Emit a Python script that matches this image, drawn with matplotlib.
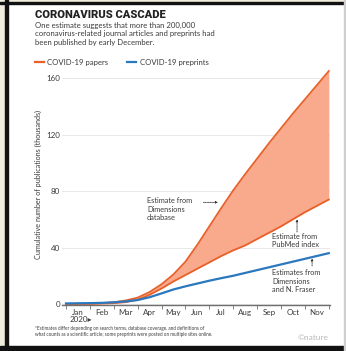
import matplotlib
matplotlib.use("Agg")
import matplotlib.pyplot as plt
from matplotlib.patches import Rectangle
from matplotlib.lines import Line2D

W, H = 346, 351

# half-month steps, 0 = 1 Jan 2020, 11 = 1 Dec 2020
t = [0, 0.5, 1, 1.5, 2, 2.5, 3, 3.5, 4, 4.5, 5, 5.5, 6, 6.5, 7, 7.5, 8, 8.5, 9, 9.5, 10, 10.5, 11]
papers_dimensions = [0, 0.1, 0.3, 0.6, 1.2, 2.5, 4.5, 8.5, 14, 21, 30, 42, 55, 68, 80.5, 92, 103,
                     114, 124.5, 135, 145, 155, 165]
papers_pubmed = [0, 0.05, 0.1, 0.3, 0.6, 1.3, 3, 6.5, 11, 16, 20.5, 25, 29.5, 34, 38, 41.5, 46,
                 50.5, 55, 60, 65, 69.5, 74]
preprints = [0.4, 0.5, 0.6, 0.8, 1.2, 1.8, 2.8, 4.8, 7.5, 10.3, 12.5, 14.5, 16.5, 18.3, 20, 22,
             24, 26, 28, 30, 32, 34, 36]
months = ["Jan", "Feb", "Mar", "Apr", "May", "Jun", "Jul", "Aug", "Sep", "Oct", "Nov"]
yticks = [0, 40, 80, 120, 160]

ORANGE = "#e8612a"
FILL = "#f9a98c"
BLUE = "#2a78bd"
TXT = "#3a3a3a"

plt.rcParams["font.family"] = ["Lato", "DejaVu Sans"]


def fx(px):
    return px / W


def fy(py):
    return 1 - py / H


fig = plt.figure(figsize=(W / 100, H / 100), dpi=100)
fig.patch.set_facecolor("white")

# frame of the clipping
fig.add_artist(Rectangle((0, 0), fx(5), 1, transform=fig.transFigure, color="#f0ecdc", zorder=0))
fig.add_artist(Rectangle((0, fy(1.7)), 1, 1.7 / H, transform=fig.transFigure, color="#f0ecdc", zorder=0))
fig.add_artist(Rectangle((fx(5), 0), 3 / W, 1, transform=fig.transFigure, color="#111111"))
fig.add_artist(Rectangle((0, fy(4)), 1, 2.3 / H, transform=fig.transFigure, color="#111111"))
fig.add_artist(Rectangle((0, 0), 1, 5.5 / H, transform=fig.transFigure, color="#111111"))
fig.add_artist(Rectangle((fx(344), 0), 1.5 / W, 1, transform=fig.transFigure, color="#cfcfcf"))

ax = fig.add_axes([fx(62.4), fy(305.4), fx(330) - fx(62.4), fy(64) - fy(305.4)])
ax.set_xlim(-0.15, 11.05)
ax.set_ylim(-1, 170)

for v in yticks:
    ax.axhline(v, color="#e4e4e4", lw=0.6, zorder=0)

ax.fill_between(t, papers_pubmed, papers_dimensions, color=FILL, lw=0, zorder=1)
ax.plot(t, papers_dimensions, color=ORANGE, lw=1.3, zorder=3)
ax.plot(t, papers_pubmed, color=ORANGE, lw=1.3, zorder=3)
ax.plot(t, preprints, color=BLUE, lw=1.6, zorder=4)

for s in ["top", "right", "left"]:
    ax.spines[s].set_visible(False)
ax.spines["bottom"].set_color("#6f6f6f")
ax.spines["bottom"].set_linewidth(1.0)

ax.set_yticks(yticks)
ax.set_yticklabels([str(v) for v in yticks], fontsize=5.8, color=TXT)
ax.tick_params(axis="y", length=0, pad=1.8)
ax.set_xticks(range(12))
ax.set_xticklabels([""] * 12)
ax.set_xticks([i + 0.5 for i in range(11)], minor=True)
ax.set_xticklabels(months, minor=True, fontsize=5.8, color=TXT)
ax.tick_params(axis="x", which="major", length=3, width=0.6, color="#6f6f6f")
ax.tick_params(axis="x", which="minor", length=0, pad=2.5)
ax.set_ylabel("Cumulative number of publications (thousands)", fontsize=5.2, color=TXT, labelpad=3)

# annotations
ann_kw = dict(fontsize=5.3, color=TXT, linespacing=1.25)
arrow = dict(arrowstyle="-|>", linestyle=(0, (1, 1)), lw=0.6, color="#333333",
             mutation_scale=3, shrinkA=0, shrinkB=0)
ax.text(3.39, 75.5, "Estimate from\nDimensions\ndatabase", va="top", ha="left", **ann_kw)
ax.annotate("", xy=(6.36, 72), xytext=(5.75, 72), arrowprops=arrow)
ax.text(8.62, 50.5, "Estimate from\nPubMed index", va="top", ha="left", **ann_kw)
ax.annotate("", xy=(9.67, 60), xytext=(9.67, 51), arrowprops=arrow)
ax.text(8.62, 24.5, "Estimates from\nDimensions\nand N. Fraser", va="top", ha="left", **ann_kw)
ax.annotate("", xy=(10.3, 32.3), xytext=(10.3, 27), arrowprops=arrow)

# header: heavy title, squeezed to the reference width
title = fig.text(fx(35), fy(18), "CORONAVIRUS CASCADE", fontsize=10.5, fontweight="black",
                 family=["Roboto", "DejaVu Sans"], color="#222222", va="baseline")
fig.canvas.draw()
w = title.get_window_extent().width
if w > 131:
    title.set_fontsize(10.5 * 131 / w)

fig.text(fx(35), fy(21.5), "One estimate suggests that more than 200,000\n"
         "coronavirus-related journal articles and preprints had\n"
         "been published by early December.",
         fontsize=5.6, color=TXT, va="top", linespacing=1.25)

fig.add_artist(Line2D([fx(35), fx(44)], [fy(62)] * 2, color=ORANGE, lw=1.6, transform=fig.transFigure))
fig.text(fx(47), fy(62), "COVID-19 papers", fontsize=5.6, color=TXT, va="center")
fig.add_artist(Line2D([fx(127), fx(136)], [fy(62)] * 2, color=BLUE, lw=1.6, transform=fig.transFigure))
fig.text(fx(139.5), fy(62), "COVID-19 preprints", fontsize=5.6, color=TXT, va="center")

fig.text(fx(70), fy(320), "2020\u25b8", fontsize=5.8, color=TXT, va="center")

fig.text(fx(35), fy(326), "*Estimates differ depending on search terms, database coverage, and definitions of\n"
         "what counts as a scientific article; some preprints were posted on multiple sites online.",
         fontsize=3.3, color=TXT, va="top", linespacing=1.35)
fig.text(fx(329), fy(338), "\u00a9nature", fontsize=6, color="#b9b9b9", ha="right", va="center")

fig.savefig("out.png", dpi=100)
